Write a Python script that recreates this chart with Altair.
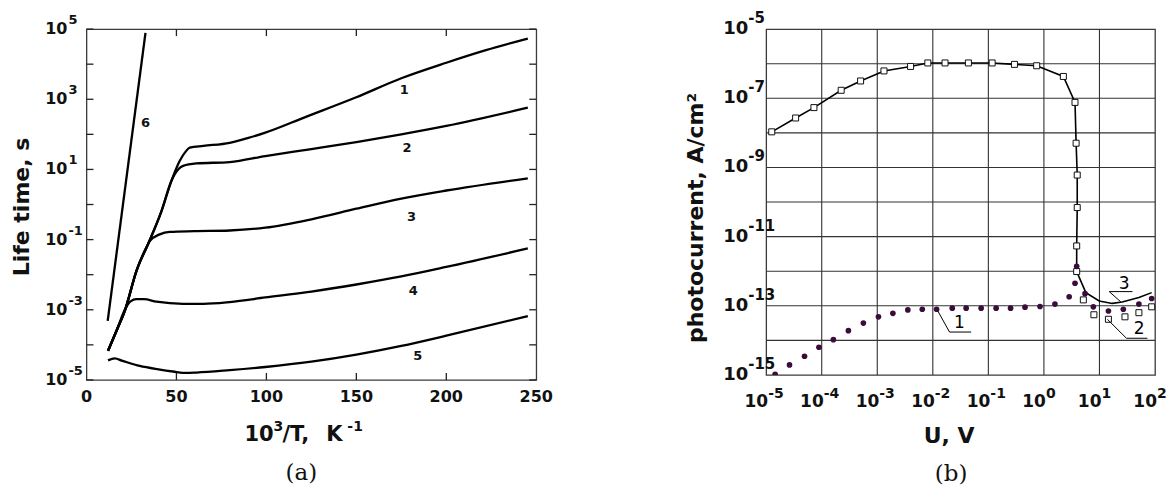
import altair as alt
import pandas as pd

SANS = "DejaVu Sans"
SERIF = "DejaVu Serif"

# ---------------- panel (a): life time vs 10^3/T ----------------
c1_x = [12, 17, 21.3, 27.8, 34.2, 41.7, 47.2, 51.8, 55, 57.4, 65, 79.6, 90, 99.4, 122, 149.6, 175, 200, 222, 245.3]
c1_y = [6.8e-5, 2.75e-4, 9.3e-4, 1.29e-2, 7.4e-2, 0.65, 4.7, 17.4, 31.6, 41.7, 46.8, 57.5, 79.4, 112, 316, 1120, 3980, 1.1e4, 2.51e4, 5.37e4]
c2_x = [12, 17, 21.3, 27.8, 34.2, 41.7, 47.2, 49, 53.7, 61.1, 79.6, 99.4, 125, 150, 175, 200, 245.3]
c2_y = [6.8e-5, 2.75e-4, 9.3e-4, 1.29e-2, 7.4e-2, 0.65, 4.7, 7.2, 12.6, 14.8, 16.2, 24, 38, 60, 100, 174, 575]
c3_x = [12, 17, 21.3, 27.8, 34.2, 35.2, 40.7, 46.3, 60, 79.6, 99.4, 125, 150, 175, 200, 245.3]
c3_y = [6.8e-5, 2.75e-4, 9.3e-4, 1.29e-2, 7.4e-2, 9.1e-2, 0.141, 0.166, 0.174, 0.182, 0.219, 0.38, 0.76, 1.48, 2.51, 5.6]
c4_x = [12, 17, 21.3, 24.5, 27.8, 32, 38.9, 53.7, 65, 79.6, 99.4, 125, 150, 175, 200, 245.3]
c4_y = [6.8e-5, 2.75e-4, 1.0e-3, 1.74e-3, 2.0e-3, 2.0e-3, 1.7e-3, 1.48e-3, 1.48e-3, 1.66e-3, 2.24e-3, 3.31e-3, 5.25e-3, 8.9e-3, 1.66e-2, 5.6e-2]
c5_x = [12, 15.7, 20, 29.6, 40, 48.1, 55.5, 61.1, 79.6, 99.4, 125, 150, 175, 200, 245.3]
c5_y = [3.6e-5, 4.1e-5, 3.5e-5, 2.5e-5, 2.0e-5, 1.74e-5, 1.58e-5, 1.62e-5, 1.9e-5, 2.34e-5, 3.31e-5, 5.25e-5, 9.3e-5, 1.82e-4, 6.6e-4]
c6_x = [11.8, 32.8]
c6_y = [4.8e-4, 7.8e4]

a_label_text = ["1", "2", "3", "4", "5", "6"]
a_label_x = [176.6, 178.2, 180.7, 181.6, 184.2, 32.8]
a_label_y = [1.86e3, 41.7, 0.436, 3.47e-3, 4.8e-5, 204]

a_xtick_vals = [0, 50, 100, 150, 200, 250]
a_xminor_vals = [50, 100, 150, 200]
a_ytick_vals = [1e5, 1e3, 1e1, 1e-1, 1e-3, 1e-5]
a_ytick_exp = ["5", "3", "1", "-1", "-3", "-5"]
a_ydecades = [1e-5, 1e-4, 1e-3, 1e-2, 1e-1, 1, 1e1, 1e2, 1e3, 1e4, 1e5]

# ---------------- panel (b): photocurrent vs U ----------------
sq_x = [1.26e-5, 3.39e-5, 7.24e-5, 2.24e-4, 5.01e-4, 1.32e-3, 3.98e-3, 8.13e-3, 1.66e-2, 4.37e-2,
        0.117, 0.295, 0.741, 2.24, 3.63, 3.80, 3.98, 3.98, 3.89, 3.89,
        5.13, 7.94, 14.5, 28.8, 51.3, 87.1]
sq_y = [1.07e-8, 2.69e-8, 5.37e-8, 1.70e-7, 3.16e-7, 6.17e-7, 8.32e-7, 1.05e-6, 1.05e-6, 1.05e-6,
        1.05e-6, 9.55e-7, 8.71e-7, 4.27e-7, 7.59e-8, 5.01e-9, 6.03e-10, 6.92e-11, 5.37e-12, 9.77e-13,
        1.48e-13, 5.50e-14, 4.07e-14, 4.79e-14, 6.31e-14, 9.33e-14]
ln_x = [1.26e-5, 3.39e-5, 7.24e-5, 2.24e-4, 5.01e-4, 1.32e-3, 3.98e-3, 8.13e-3, 1.66e-2, 4.37e-2,
        0.117, 0.295, 0.741, 2.24, 3.63, 3.80, 3.98, 3.98, 3.89, 3.89,
        5.69, 9.89, 17.0, 25.7, 51.3, 87.1]
ln_y = [1.07e-8, 2.69e-8, 5.37e-8, 1.70e-7, 3.16e-7, 6.17e-7, 8.32e-7, 1.05e-6, 1.05e-6, 1.05e-6,
        1.05e-6, 9.55e-7, 8.71e-7, 4.27e-7, 7.59e-8, 5.01e-9, 6.03e-10, 6.92e-11, 5.37e-12, 9.77e-13,
        2.40e-13, 1.38e-13, 1.17e-13, 1.29e-13, 1.74e-13, 2.40e-13]
dot_x = [1.45e-5, 2.63e-5, 4.90e-5, 8.91e-5, 1.62e-4, 3.02e-4, 5.62e-4, 1.05e-3, 1.91e-3, 3.55e-3,
         6.46e-3, 1.17e-2, 2.24e-2, 3.98e-2, 7.41e-2, 0.138, 0.251, 0.457, 0.851, 1.58,
         2.85, 3.63, 3.89, 5.50, 7.76, 14.5, 26.9, 51.3, 87.1]
dot_y = [1.05e-15, 1.95e-15, 3.47e-15, 6.31e-15, 1.05e-14, 1.91e-14, 3.16e-14, 4.79e-14, 6.03e-14, 7.59e-14,
         7.94e-14, 7.94e-14, 8.51e-14, 8.51e-14, 8.51e-14, 8.51e-14, 8.51e-14, 9.12e-14, 9.55e-14, 1.12e-13,
         1.82e-13, 4.47e-13, 1.38e-12, 2.24e-13, 9.33e-14, 7.08e-14, 7.94e-14, 1.12e-13, 1.62e-13]

b_lab_text = ["1", "2", "3"]
b_lab_x = [0.030, 51.8, 27.8]
b_lab_y = [3.16e-14, 2.09e-14, 4.2e-13]
lead_x = [0.0123, 0.020, 13.9, 30.6, 24.3, 15.0]
lead_y = [7.08e-14, 1.74e-14, 4.07e-14, 1.15e-14, 1.29e-13, 2.57e-13]
lead_x2 = [0.020, 0.049, 30.6, 73.0, 15.0, 39.3]
lead_y2 = [1.74e-14, 1.74e-14, 1.15e-14, 1.15e-14, 2.57e-13, 2.57e-13]

b_xtick_vals = [1e-5, 1e-4, 1e-3, 1e-2, 1e-1, 1, 10, 100]
b_xtick_exp = ["-5", "-4", "-3", "-2", "-1", "0", "1", "2"]
b_ytick_vals = [1e-5, 1e-7, 1e-9, 1e-11, 1e-13, 1e-15]
b_ytick_exp = ["-5", "-7", "-9", "-11", "-13", "-15"]
b_vgrid = [1e-4, 1e-3, 1e-2, 1e-1, 1, 10]
b_hgrid = [1e-6, 1e-7, 1e-8, 1e-9, 1e-10, 1e-11, 1e-12, 1e-13, 1e-14]

# ---------------- layout sizes ----------------
W1, H1 = 450, 351
W2, H2 = 389, 346

# ================= build panel (a) =================
rows = []
for name, xs, ys in [("1", c1_x, c1_y), ("2", c2_x, c2_y), ("3", c3_x, c3_y),
                     ("4", c4_x, c4_y), ("5", c5_x, c5_y), ("6", c6_x, c6_y)]:
    for i, (x, y) in enumerate(zip(xs, ys)):
        rows.append({"curve": name, "i": i, "x": x, "y": y})
df_a = pd.DataFrame(rows)

xA = alt.Scale(domain=[0, 250], nice=False, zero=False)
yA = alt.Scale(type="log", domain=[1e-5, 1e5], nice=False)


def XA(f):
    return alt.X(f, type="quantitative", scale=xA, axis=None)


def YA(f):
    return alt.Y(f, type="quantitative", scale=yA, axis=None)


def txt(s, x, y, size, weight="bold", align="left", baseline="alphabetic", font=SANS, angle=None):
    kw = dict(font=font, fontSize=size, fontWeight=weight, align=align, baseline=baseline, color="#111")
    if angle is not None:
        kw["angle"] = angle
    return alt.Chart(pd.DataFrame({"t": [s]})).mark_text(**kw).encode(
        x=alt.value(x), y=alt.value(y), text="t:N")


a_lines = alt.Chart(df_a).mark_line(color="black", strokeWidth=2.3, interpolate="monotone").encode(
    x=XA("x"), y=YA("y"), detail="curve:N", order="i:Q")

df_alab = pd.DataFrame({"t": a_label_text, "x": a_label_x, "y": a_label_y})
a_labels = alt.Chart(df_alab).mark_text(font=SANS, fontSize=13, fontWeight="bold", color="#111").encode(
    x=XA("x"), y=YA("y"), text="t:N")

df_adec = pd.DataFrame({"v": a_ydecades})
a_ytk_l = alt.Chart(df_adec).mark_rule(color="#222", strokeWidth=1.3).encode(
    y=YA("v"), x=alt.value(0), x2=alt.value(7))
a_ytk_r = alt.Chart(df_adec).mark_rule(color="#222", strokeWidth=1.3).encode(
    y=YA("v"), x=alt.value(W1 - 7), x2=alt.value(W1))
df_axm = pd.DataFrame({"v": a_xminor_vals})
a_xtk_b = alt.Chart(df_axm).mark_rule(color="#222", strokeWidth=1.3).encode(
    x=XA("v"), y=alt.value(H1 - 7), y2=alt.value(H1))
a_xtk_t = alt.Chart(df_axm).mark_rule(color="#222", strokeWidth=1.3).encode(
    x=XA("v"), y=alt.value(0), y2=alt.value(7))

df_ayl = pd.DataFrame({"v": a_ytick_vals, "base": ["10"] * len(a_ytick_vals), "e": a_ytick_exp})
a_ylab = alt.Chart(df_ayl).mark_text(font=SANS, fontSize=16, fontWeight="bold", align="right",
                                     baseline="middle", color="#111").encode(
    y=YA("v"), x=alt.value(-19), text="base:N")
a_yexp = alt.Chart(df_ayl).mark_text(font=SANS, fontSize=13, fontWeight="bold", align="left",
                                     baseline="middle", dy=-9, color="#111").encode(
    y=YA("v"), x=alt.value(-18), text="e:N")

df_axl = pd.DataFrame({"v": a_xtick_vals, "t": [str(v) for v in a_xtick_vals]})
a_xlab = alt.Chart(df_axl).mark_text(font=SANS, fontSize=16, fontWeight="bold", align="center",
                                     baseline="alphabetic", color="#111").encode(
    x=XA("v"), y=alt.value(H1 + 22), text="t:N")

a_ytitle = txt("Life time, s", -64, 178, 22, align="center", baseline="middle", angle=270)
a_xt = [txt("10", 158, 412, 21), txt("3", 187, 402, 14), txt("/T,", 196, 412, 21),
        txt("K", 240, 412, 21), txt("-1", 261, 402, 14)]
a_cap = txt("(a)", 215, 444, 23, weight="normal", align="center", baseline="middle", font=SERIF)

panel_a = alt.layer(a_ytk_l, a_ytk_r, a_xtk_b, a_xtk_t, a_lines, a_labels, a_ylab, a_yexp,
                    a_xlab, a_ytitle, *a_xt, a_cap).properties(width=W1, height=H1)

# ================= build panel (b) =================
xB = alt.Scale(type="log", domain=[1e-5, 1e2], nice=False)
yB = alt.Scale(type="log", domain=[1e-15, 1e-5], nice=False)


def XB(f):
    return alt.X(f, type="quantitative", scale=xB, axis=None)


def YB(f):
    return alt.Y(f, type="quantitative", scale=yB, axis=None)


b_vg = alt.Chart(pd.DataFrame({"v": b_vgrid})).mark_rule(color="#333", strokeWidth=1.1).encode(
    x=XB("v"), y=alt.value(0), y2=alt.value(H2))
b_hg = alt.Chart(pd.DataFrame({"v": b_hgrid})).mark_rule(color="#333", strokeWidth=1.1).encode(
    y=YB("v"), x=alt.value(0), x2=alt.value(W2))

df_ln = pd.DataFrame({"x": ln_x, "y": ln_y, "i": list(range(len(ln_x)))})
b_line = alt.Chart(df_ln).mark_line(color="black", strokeWidth=1.6).encode(
    x=XB("x"), y=YB("y"), order="i:Q")
df_sq = pd.DataFrame({"x": sq_x, "y": sq_y})
b_sq = alt.Chart(df_sq).mark_square(size=36, fill="white", stroke="#111", strokeWidth=1,
                                    opacity=1, fillOpacity=1).encode(x=XB("x"), y=YB("y"))
df_dot = pd.DataFrame({"x": dot_x, "y": dot_y})
b_dot = alt.Chart(df_dot).mark_circle(size=32, color="#3a0c3a", opacity=1, clip=True).encode(
    x=XB("x"), y=YB("y"))

df_lead = pd.DataFrame({"x": lead_x, "y": lead_y, "x2": lead_x2, "y2": lead_y2})
b_lead = alt.Chart(df_lead).mark_rule(color="black", strokeWidth=1).encode(
    x=XB("x"), y=YB("y"), x2="x2:Q", y2="y2:Q")
df_blab = pd.DataFrame({"t": b_lab_text, "x": b_lab_x, "y": b_lab_y})
b_labels = alt.Chart(df_blab).mark_text(font=SANS, fontSize=17, color="black", baseline="middle").encode(
    x=XB("x"), y=YB("y"), text="t:N")

df_byl = pd.DataFrame({"v": b_ytick_vals, "base": ["10"] * len(b_ytick_vals), "e": b_ytick_exp})
b_ylab = alt.Chart(df_byl).mark_text(font=SANS, fontSize=18, fontWeight="bold", align="right",
                                     baseline="middle", color="#111").encode(
    y=YB("v"), x=alt.value(-18), text="base:N")
b_yexp = alt.Chart(df_byl).mark_text(font=SANS, fontSize=15, fontWeight="bold", align="left",
                                     baseline="middle", dy=-11, color="#111").encode(
    y=YB("v"), x=alt.value(-18), text="e:N")

df_bxl = pd.DataFrame({"v": b_xtick_vals, "base": ["10"] * len(b_xtick_vals), "e": b_xtick_exp})
b_xlab = alt.Chart(df_bxl).mark_text(font=SANS, fontSize=17, fontWeight="bold", align="right",
                                     baseline="alphabetic", dx=2, color="#111").encode(
    x=XB("v"), y=alt.value(H2 + 32), text="base:N")
b_xexp = alt.Chart(df_bxl).mark_text(font=SANS, fontSize=14, fontWeight="bold", align="left",
                                     baseline="alphabetic", dx=2, color="#111").encode(
    x=XB("v"), y=alt.value(H2 + 23), text="e:N")

b_ytitle = txt("photocurrent, A/cm\u00b2", -70, 189, 22, align="center", baseline="middle", angle=270)
b_xtitle = txt("U, V", 183, 414, 22, align="center")
b_cap = txt("(b)", 185, 445, 23, weight="normal", align="center", baseline="middle", font=SERIF)

panel_b = alt.layer(b_vg, b_hg, b_line, b_sq, b_dot, b_lead, b_labels, b_ylab, b_yexp,
                    b_xlab, b_xexp, b_ytitle, b_xtitle, b_cap).properties(width=W2, height=H2)

chart = alt.hconcat(panel_a, panel_b, spacing=230, bounds="flush").configure_view(
    stroke="#3a3a3a", strokeWidth=1.3).properties(
    padding={"left": 10.5, "top": 10, "right": 0, "bottom": 0}, background="white")

chart.save("out.html", embed_options={"renderer": "svg", "actions": False})
